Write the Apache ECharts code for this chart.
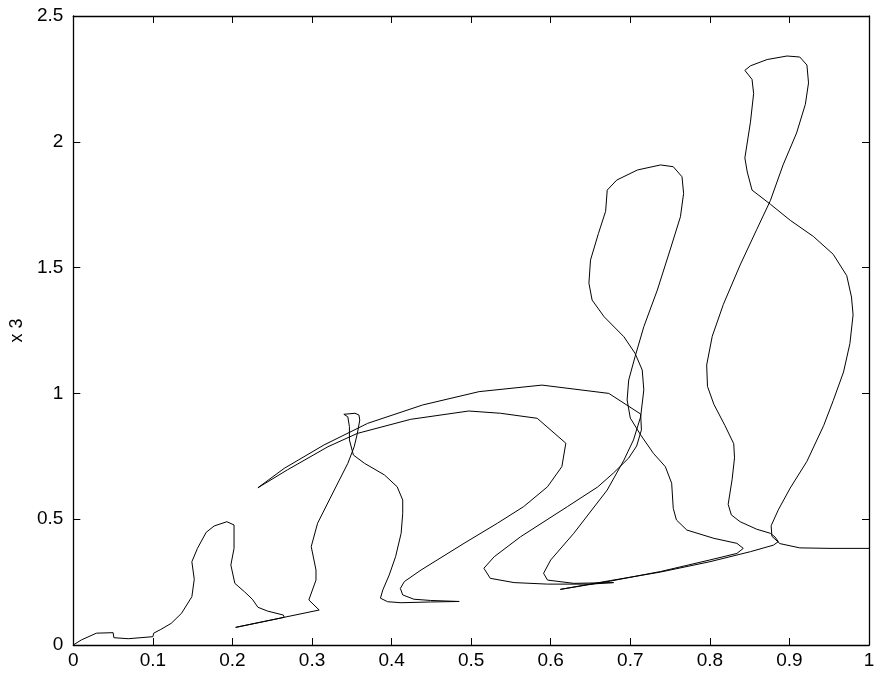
<!DOCTYPE html>
<html>
<head>
<meta charset="utf-8">
<script src="https://cdn.jsdelivr.net/npm/echarts@6/dist/echarts.min.js"></script>
<style>
html,body{margin:0;padding:0;background:#fff;}
#chart{width:878px;height:679px;}
</style>
</head>
<body>
<div id="chart"></div>
<script>
// tick labels
const xTickLabels = ['0','0.1','0.2','0.3','0.4','0.5','0.6','0.7','0.8','0.9','1'];
const yTickLabels = ['0','0.5','1','1.5','2','2.5'];
const yAxisName = 'x 3';

// trajectory pieces, [x, x3] pairs
const hump1 = [[0,0],[0.010,0.020],[0.029,0.047],[0.050,0.049],[0.051,0.029],[0.069,0.025],[0.100,0.033],[0.101,0.047],[0.110,0.062],[0.123,0.086],[0.136,0.126],[0.149,0.192],[0.152,0.261],[0.149,0.331],[0.156,0.384],[0.167,0.448],[0.177,0.473],[0.193,0.490],[0.202,0.477],[0.202,0.384],[0.198,0.318],[0.203,0.245],[0.215,0.212],[0.225,0.182],[0.232,0.150],[0.244,0.135],[0.264,0.119],[0.265,0.110],[0.253,0.102],[0.204,0.070]];

const hump2 = [[0.204,0.070],[0.309,0.139],[0.296,0.179],[0.305,0.258],[0.305,0.298],[0.299,0.391],[0.307,0.484],[0.328,0.616],[0.345,0.722],[0.353,0.788],[0.357,0.841],[0.360,0.894],[0.359,0.914],[0.354,0.921],[0.340,0.917],[0.345,0.907],[0.347,0.868],[0.347,0.815],[0.352,0.755],[0.366,0.722],[0.391,0.676],[0.407,0.629],[0.414,0.576],[0.414,0.523],[0.412,0.444],[0.405,0.351],[0.397,0.278],[0.389,0.219],[0.386,0.186],[0.395,0.172],[0.412,0.168],[0.449,0.171],[0.485,0.173]];

const innerArc = [[0.485,0.173],[0.449,0.177],[0.428,0.182],[0.414,0.199],[0.411,0.225],[0.416,0.252],[0.437,0.298],[0.491,0.404],[0.533,0.484],[0.566,0.550],[0.596,0.629],[0.614,0.709],[0.619,0.802],[0.583,0.901],[0.537,0.921],[0.497,0.930],[0.424,0.897],[0.357,0.841],[0.320,0.788],[0.269,0.696],[0.232,0.625]];

const outerArc = [[0.232,0.625],[0.265,0.702],[0.315,0.795],[0.370,0.881],[0.439,0.954],[0.510,1.007],[0.589,1.033],[0.673,1.000],[0.713,0.918]];

const dropCurve = [[0.713,0.918],[0.714,0.855],[0.708,0.791],[0.698,0.743],[0.679,0.684],[0.659,0.628],[0.621,0.550],[0.562,0.430],[0.529,0.351],[0.516,0.305],[0.524,0.265],[0.554,0.248],[0.596,0.242],[0.650,0.242],[0.679,0.248]];

const hump3 = [[0.679,0.248],[0.629,0.245],[0.596,0.258],[0.591,0.285],[0.600,0.338],[0.629,0.444],[0.671,0.616],[0.692,0.735],[0.704,0.815],[0.713,0.907],[0.717,1.014],[0.715,1.093],[0.706,1.159],[0.692,1.225],[0.667,1.305],[0.652,1.371],[0.648,1.438],[0.650,1.530],[0.660,1.636],[0.669,1.724],[0.671,1.808],[0.683,1.848],[0.709,1.888],[0.738,1.908],[0.754,1.901],[0.765,1.861],[0.767,1.795],[0.763,1.702],[0.750,1.570],[0.734,1.411],[0.717,1.265],[0.706,1.146],[0.698,1.053],[0.696,0.974],[0.700,0.902],[0.713,0.835],[0.729,0.762],[0.744,0.709],[0.752,0.643],[0.754,0.543],[0.758,0.497],[0.771,0.457],[0.805,0.424],[0.834,0.404],[0.842,0.384],[0.834,0.364],[0.800,0.338],[0.738,0.292],[0.675,0.254],[0.612,0.221]];

const hump4 = [[0.612,0.221],[0.675,0.256],[0.738,0.290],[0.800,0.331],[0.851,0.371],[0.880,0.397],[0.886,0.411],[0.882,0.429],[0.876,0.444],[0.859,0.460],[0.838,0.490],[0.827,0.517],[0.823,0.559],[0.828,0.659],[0.831,0.744],[0.830,0.800],[0.819,0.872],[0.805,0.957],[0.797,1.028],[0.796,1.113],[0.803,1.227],[0.817,1.354],[0.838,1.510],[0.859,1.652],[0.876,1.766],[0.892,1.908],[0.909,2.035],[0.920,2.149],[0.924,2.234],[0.922,2.305],[0.913,2.337],[0.897,2.341],[0.872,2.327],[0.851,2.302],[0.844,2.284],[0.853,2.248],[0.855,2.192],[0.851,2.078],[0.844,1.936],[0.847,1.880],[0.853,1.808],[0.876,1.752],[0.901,1.688],[0.930,1.624],[0.955,1.553],[0.972,1.468],[0.978,1.383],[0.980,1.312],[0.976,1.198],[0.968,1.085],[0.955,0.971],[0.943,0.872],[0.922,0.730],[0.901,0.624],[0.886,0.537],[0.877,0.474],[0.878,0.432],[0.888,0.403],[0.913,0.386],[0.951,0.384],[1.0,0.384]];

const pieces = [hump1, hump2, innerArc, outerArc, dropCurve, hump3, hump4];

const chart = echarts.init(document.getElementById('chart'), null, {renderer:'canvas'});
const font = 'Liberation Sans, Arial, Helvetica, sans-serif';
const axisCommon = {
  axisLine:{show:true, onZero:false, lineStyle:{color:'#000', width:1.3}},
  axisTick:{show:true, inside:true, length:7, lineStyle:{color:'#000', width:1}},
  splitLine:{show:false}
};
chart.setOption({
  animation:false,
  backgroundColor:'#fff',
  grid:{left:72, right:9, top:16, bottom:34, containLabel:false},
  xAxis:[
    Object.assign({type:'value', min:0, max:1, interval:0.1, position:'bottom',
      axisLabel:{color:'#000', fontSize:19, fontFamily:font, margin:6,
        formatter:v => xTickLabels[Math.round(v*10)]}}, axisCommon),
    Object.assign({type:'value', min:0, max:1, interval:0.1, position:'top',
      axisLabel:{show:false}}, axisCommon)
  ],
  yAxis:[
    Object.assign({type:'value', min:0, max:2.5, interval:0.5, position:'left',
      name:yAxisName, nameLocation:'middle', nameGap:44, nameRotate:90,
      nameTextStyle:{color:'#000', fontSize:18, fontFamily:font},
      axisLabel:{color:'#000', fontSize:19, fontFamily:font, margin:10,
        formatter:v => yTickLabels[Math.round(v*2)]}}, axisCommon),
    Object.assign({type:'value', min:0, max:2.5, interval:0.5, position:'right',
      axisLabel:{show:false}}, axisCommon)
  ],
  series: pieces.map((p, i) => ({
    type:'line', name:'piece'+i, data:p, xAxisIndex:0, yAxisIndex:0,
    showSymbol:false, symbol:'none', smooth:false, clip:true,
    lineStyle:{color:'#000', width:1}
  }))
});
</script>
</body>
</html>
